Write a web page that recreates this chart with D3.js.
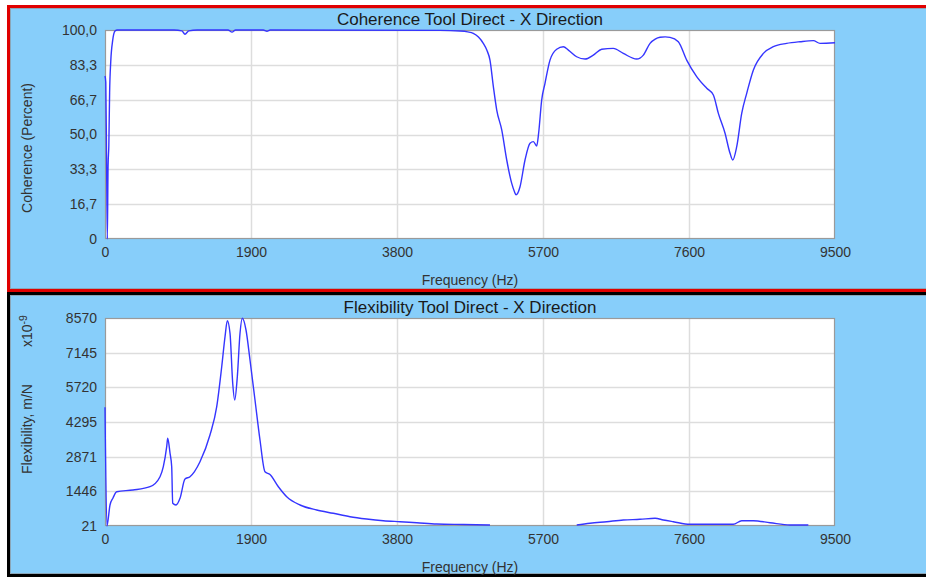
<!DOCTYPE html>
<html>
<head>
<meta charset="utf-8">
<script src="https://cdn.jsdelivr.net/npm/d3@7"></script>
<style>
  html, body { margin: 0; padding: 0; background: #ffffff; }
  svg { display: block; font-family: "Liberation Sans", Arial, sans-serif; }
</style>
</head>
<body>
<svg id="chart" width="926" height="577"></svg>
<script>
// Frequency axis (Hz)
const freqTicks = [0, 1900, 3800, 5700, 7600, 9500];

// Coherence (percent) vs frequency
const coherenceTicks = [0, 16.7, 33.3, 50, 66.7, 83.3, 100];
const coherenceTickLabels = ["0", "16,7", "33,3", "50,0", "66,7", "83,3", "100,0"];
const coherenceFreq = [0, 10, 20, 30, 40, 50, 60, 75, 100, 130, 160, 900, 1000, 1041, 1090, 1200, 1600, 1653, 1700, 2060, 2108, 2150,
  4360, 4620, 4720, 4793, 4860, 4923, 4970, 5010, 5054, 5098, 5163, 5228, 5293, 5330, 5349, 5370, 5401, 5466, 5531, 5575, 5618, 5643, 5683, 5726, 5791, 5878, 5965,
  6030, 6138, 6247, 6355, 6464, 6615, 6745, 6919, 7006, 7093, 7160, 7223, 7290, 7353, 7461, 7570, 7700, 7831, 7917, 7982, 8069, 8134, 8169,
  8221, 8286, 8351, 8438, 8568, 8698, 8871, 9045, 9218, 9305, 9500];
const coherenceValues = [78, 75, 40, 0, 35, 45, 70, 85, 95, 99.5, 100, 100, 99.6, 98, 99.6, 100, 100, 99, 100, 100, 99.4, 100,
  99.8, 99.5, 99.1, 98.4, 96.6, 93.6, 90.3, 85.6, 72.9, 61.7, 52.2, 37.8, 26.6, 22.5, 21.1, 21.8, 25.0, 37.8, 45.8, 46.6, 44.5, 50.6, 66.5, 74.5, 85.6, 90.8, 92.0,
  90.4, 87.2, 86.1, 88.0, 90.8, 91.2, 88.8, 86.1, 88.0, 93.6, 95.6, 96.5, 96.7, 96.5, 94.4, 85.6, 77.7, 72.1, 68.9, 60.1, 50.6, 41.0, 37.8,
  44.2, 60.1, 69.7, 80.9, 88.8, 92.0, 93.6, 94.4, 94.9, 93.6, 93.9];

// Flexibility (x10^-9 m/N) vs frequency; null marks where the trace is not drawn
const flexTicks = [21, 1446, 2871, 4295, 5720, 7145, 8570];
const flexFreq = [0, 25, 65, 104, 152, 364, 586, 716, 759, 803, 816, 846, 868, 881, 924, 976, 1041, 1106, 1236, 1366, 1454, 1519,
  1562, 1592, 1627, 1662, 1688, 1722, 1757, 1787, 1835, 1887, 1952, 2017, 2082, 2147, 2256, 2365, 2538, 2755, 2971, 3188, 3405,
  3622, 3839, 4057, 4317, 4663, 5010, 5500, 6139, 6312, 6529, 6745, 6962, 7158, 7266, 7396, 7612, 8177, 8286, 8437, 8654, 8915, 9153];
const flexValues = [4900, 21, 884, 1172, 1431, 1501, 1636, 2047, 2458, 3280, 3625, 3021, 2458, 954, 884, 1159, 1953, 2047, 2664, 3761, 4924, 6568,
  7801, 8459, 7941, 5886, 5200, 6157, 7941, 8557, 8077, 6844, 5200, 3556, 2253, 2138, 1636, 1225, 884, 679, 543, 403, 309,
  239, 198, 157, 103, 83, 62, null, 62, 132, 198, 268, 296, 337, 268, 198, 91, 91, 239, 239, 157, 62, 62];

const svg = d3.select("#chart");
const BG = "#87cefa";
const LINE = "#3535ff";
const FONT = "'Liberation Sans', Arial, sans-serif";

function drawPanel(opts) {
  const g = svg.append("g");
  // panel frame and background
  g.append("rect").attr("x", opts.frame[0]).attr("y", opts.frame[1])
    .attr("width", opts.frame[2]).attr("height", opts.frame[3])
    .attr("fill", BG).attr("stroke", opts.border).attr("stroke-width", 3);
  g.append("rect").attr("x", opts.frame[0] + 2).attr("y", opts.frame[1] + 2)
    .attr("width", opts.frame[2] - 4).attr("height", opts.frame[3] - 4)
    .attr("fill", "none").attr("stroke", "#8aa6b8").attr("stroke-width", 1);

  const x = d3.scaleLinear().domain([0, 9500]).range([opts.left, opts.right]);
  const y = d3.scaleLinear().domain(opts.yDomain).range([opts.bottom, opts.top]);

  // plot area
  g.append("rect").attr("x", opts.left).attr("y", opts.top)
    .attr("width", opts.right - opts.left).attr("height", opts.bottom - opts.top)
    .attr("fill", "#ffffff");

  // grid
  g.append("g").selectAll("line").data(opts.yTicks.slice(1, -1)).join("line")
    .attr("x1", opts.left).attr("x2", opts.right)
    .attr("y1", d => Math.round(y(d)) + 0.5).attr("y2", d => Math.round(y(d)) + 0.5)
    .attr("stroke", "#dddddd").attr("stroke-width", 1.5);
  g.append("g").selectAll("line").data(freqTicks.slice(1, -1)).join("line")
    .attr("y1", opts.top).attr("y2", opts.bottom)
    .attr("x1", d => Math.round(x(d)) + 0.5).attr("x2", d => Math.round(x(d)) + 0.5)
    .attr("stroke", "#dddddd").attr("stroke-width", 1.5);

  // axes (labels only, no tick marks)
  const xAxis = d3.axisBottom(x).tickValues(freqTicks).tickSize(0).tickPadding(8).tickFormat(d3.format("d"));
  const xg = g.append("g").attr("transform", `translate(0,${opts.bottom})`).call(xAxis);
  const yAxis = d3.axisLeft(y).tickValues(opts.yTicks).tickSize(0).tickPadding(8)
    .tickFormat((d, i) => opts.yLabels[i]);
  const yg = g.append("g").attr("transform", `translate(${opts.left},0)`).call(yAxis);
  [xg, yg].forEach(a => {
    a.select(".domain").remove();
    a.selectAll("text").attr("font-size", 14).attr("fill", "#333333").attr("font-family", FONT);
  });

  // plot border
  g.append("rect").attr("x", opts.left + 0.5).attr("y", opts.top + 0.5)
    .attr("width", opts.right - opts.left - 1).attr("height", opts.bottom - opts.top - 1)
    .attr("fill", "none").attr("stroke", "#9a9a9a").attr("stroke-width", 1.2);

  // trace
  const pts = opts.xs.map((f, i) => [f, opts.ys[i]]);
  const line = d3.line().defined(d => d[1] !== null)
    .x(d => x(d[0])).y(d => y(d[1])).curve(d3.curveMonotoneX);
  g.append("path").datum(pts).attr("d", line)
    .attr("fill", "none").attr("stroke", LINE).attr("stroke-width", 1.4)
    .attr("stroke-linejoin", "round");

  // titles
  g.append("text").attr("x", (opts.left + opts.right) / 2).attr("y", opts.top - 5)
    .attr("text-anchor", "middle").attr("font-size", 17).attr("fill", "#1a1a1a")
    .text(opts.title);
  g.append("text").attr("x", (opts.left + opts.right) / 2).attr("y", opts.bottom + 46)
    .attr("text-anchor", "middle").attr("font-size", 14).attr("fill", "#333333")
    .text("Frequency (Hz)");
  g.append("text").attr("transform", `translate(32,${opts.yTitleY}) rotate(-90)`)
    .attr("text-anchor", "middle").attr("font-size", 14).attr("fill", "#333333")
    .text(opts.yTitle);
  return g;
}

drawPanel({
  frame: [8.5, 6.5, 930, 284],
  border: "#e00000",
  left: 105, right: 835, top: 30, bottom: 239,
  yDomain: [0, 100], yTicks: coherenceTicks, yLabels: coherenceTickLabels,
  xs: coherenceFreq, ys: coherenceValues,
  title: "Coherence Tool Direct - X Direction",
  yTitle: "Coherence (Percent)", yTitleY: 148
});

const flex = drawPanel({
  frame: [8.5, 293.5, 930, 282],
  border: "#000000",
  left: 105, right: 835, top: 318, bottom: 526,
  yDomain: [21, 8570], yTicks: flexTicks, yLabels: flexTicks.map(String),
  xs: flexFreq, ys: flexValues,
  title: "Flexibility Tool Direct - X Direction",
  yTitle: "Flexibility, m/N", yTitleY: 429
});

// exponent marker for the flexibility axis
const expo = flex.append("text").attr("transform", "translate(32,331) rotate(-90)")
  .attr("text-anchor", "middle").attr("font-size", 14).attr("fill", "#333333");
expo.append("tspan").text("x10");
expo.append("tspan").attr("dy", -5).attr("font-size", 10.5).text("-9");
</script>
</body>
</html>
